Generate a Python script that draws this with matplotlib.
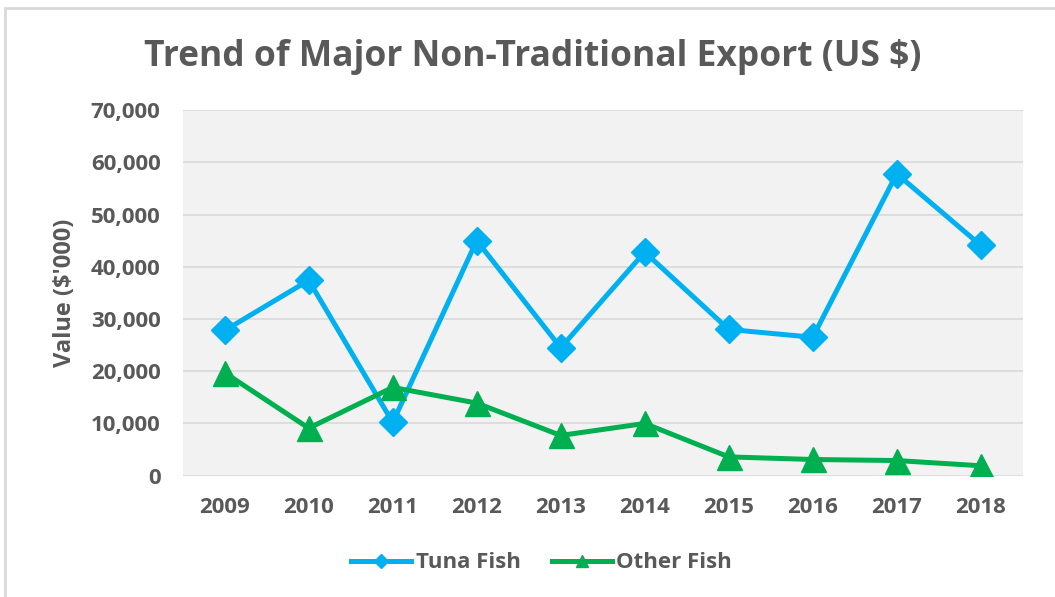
import matplotlib
matplotlib.use('Agg')
import matplotlib.pyplot as plt
from matplotlib.patches import Rectangle

# Data (US $ '000)
years = ['2009', '2010', '2011', '2012', '2013', '2014', '2015', '2016', '2017', '2018']
tuna_fish = [27800, 37400, 10200, 45000, 24500, 42800, 28000, 26500, 57800, 44100]
other_fish = [19700, 9100, 16900, 13900, 7700, 10000, 3600, 3100, 2900, 1900]
y_ticks = [0, 10000, 20000, 30000, 40000, 50000, 60000, 70000]

text_color = '#595959'
plt.rcParams['font.family'] = ['Open Sans', 'DejaVu Sans']

fig = plt.figure(figsize=(10.55, 5.97), dpi=100)
ax = fig.add_axes([0.1732, 0.2032, 0.7962, 0.6125])

# Chart border (light gray frame, cut off at right and bottom)
fig.patches.append(Rectangle((5 / 1055, -0.05), 1.1, 1 - 8 / 597 + 0.05,
                             transform=fig.transFigure, fill=False,
                             edgecolor='#d9d9d9', linewidth=2))

x = range(len(years))
ax.plot(x, tuna_fish, color='#00B0F0', linewidth=3.6, marker='D',
        markersize=14, label='Tuna Fish', zorder=3)
ax.plot(x, other_fish, color='#00B050', linewidth=3.6, marker='^',
        markersize=18, label='Other Fish', zorder=3)

ax.set_facecolor('#f2f2f2')
ax.set_xlim(-0.5, len(years) - 0.5)
ax.set_ylim(0, 70000)
ax.set_yticks(y_ticks)
ax.set_yticklabels([f'{v:,}' for v in y_ticks])
ax.set_xticks(list(x))
ax.set_xticklabels(years)
ax.grid(axis='y', color='#d9d9d9', linewidth=1.2)
ax.set_axisbelow(True)
for s in ax.spines.values():
    s.set_visible(False)
ax.tick_params(length=0, labelsize=16, labelcolor=text_color)
ax.tick_params(axis='y', pad=16)
ax.tick_params(axis='x', pad=15)
for lab in ax.get_xticklabels() + ax.get_yticklabels():
    lab.set_fontweight('bold')

ax.set_ylabel("Value ($'000)", fontsize=17, fontweight='bold', color=text_color, labelpad=10)

fig.text(0.505, 0.905, 'Trend of Major Non-Traditional Export (US $)', ha='center', va='center',
         fontsize=25.5, fontweight='bold', color=text_color)

leg = ax.legend(loc='upper center', bbox_to_anchor=(0.427, -0.155), ncol=2, frameon=False,
                fontsize=16, handlelength=2.7, columnspacing=1.4, handletextpad=0.2,
                markerscale=0.5)
for t in leg.get_texts():
    t.set_color(text_color)
    t.set_fontweight('bold')

fig.savefig('out.png', dpi=100)
